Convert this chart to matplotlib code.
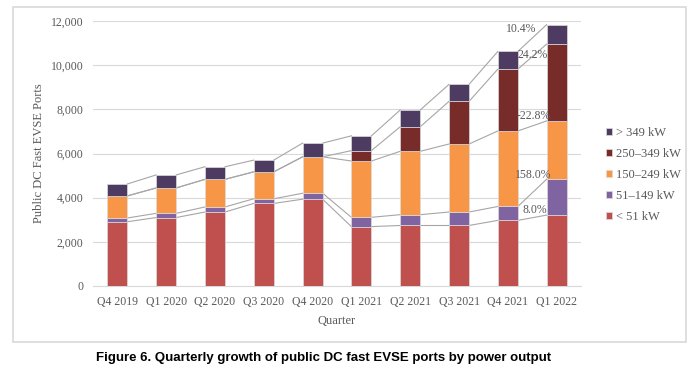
import matplotlib.pyplot as plt
import numpy as np
from matplotlib.patches import Rectangle

quarters = ["Q4 2019", "Q1 2020", "Q2 2020", "Q3 2020", "Q4 2020",
            "Q1 2021", "Q2 2021", "Q3 2021", "Q4 2021", "Q1 2022"]
series_names = ["< 51 kW", "51\u2013149 kW", "150\u2013249 kW", "250\u2013349 kW", "> 349 kW"]
lt51 = [2910, 3100, 3350, 3740, 3930, 2690, 2740, 2740, 2970, 3210]
kw51_149 = [170, 190, 230, 210, 270, 420, 490, 610, 630, 1625]
kw150_249 = [1000, 1150, 1250, 1220, 1650, 2550, 2870, 3080, 3420, 2640]
kw250_349 = [0, 0, 0, 0, 0, 470, 1110, 1930, 2800, 3478]
gt349 = [540, 590, 570, 530, 620, 670, 760, 770, 800, 883]
colors = ["#C0504D", "#8064A2", "#F79646", "#772C2A", "#4D3B62"]

# growth labels Q4 2021 -> Q1 2022 (text placement in data units)
pct_labels = ["8.0%", "158.0%", "-22.8%", "24.2%", "10.4%"]
pct_x = [8.56, 8.52, 8.52, 8.5, 8.27]
pct_y = [3440, 5030, 7710, 10460, 11640]

plt.rcParams["font.family"] = ["Liberation Serif", "DejaVu Serif"]

fig = plt.figure(figsize=(6.97, 3.76), dpi=100)
ax = fig.add_axes([0.1334, 0.2394, 0.7002, 0.7047])

data = [lt51, kw51_149, kw150_249, kw250_349, gt349]
x = np.arange(len(quarters))
width = 0.41
bottom = np.zeros(len(quarters))
handles = []
for name, vals, col in zip(series_names, data, colors):
    vals = np.array(vals, dtype=float)
    b = ax.bar(x, vals, width, bottom=bottom, color=col, label=name,
               edgecolor="#dcdcdc", linewidth=0.5, zorder=3)
    handles.append(b)
    top = bottom + vals
    # series lines between adjacent bars
    for i in range(len(quarters) - 1):
        ax.plot([x[i] + width / 2, x[i + 1] - width / 2], [top[i], top[i + 1]],
                color="#a6a6a6", linewidth=0.8, zorder=2)
    bottom = top

for lab, px, py in zip(pct_labels, pct_x, pct_y):
    ax.text(px, py, lab, ha="center", va="center", fontsize=8.5, color="#595959", zorder=4)

ax.set_xlim(-0.5, len(quarters) - 0.5)
ax.set_ylim(0, 12000)
ax.set_yticks(range(0, 12001, 2000))
ax.set_yticklabels([f"{v:,}" for v in range(0, 12001, 2000)])
ax.set_xticks(x)
ax.set_xticklabels(quarters)
ax.tick_params(axis="both", length=0, labelsize=8.5, labelcolor="#595959")
ax.tick_params(axis="y", pad=7)
ax.tick_params(axis="x", pad=7)
ax.grid(axis="y", color="#d9d9d9", linewidth=0.8, zorder=0)
for s in ["top", "right", "left"]:
    ax.spines[s].set_visible(False)
ax.spines["bottom"].set_color("#d9d9d9")
ax.set_ylabel("Public DC Fast EVSE Ports", fontsize=9, color="#595959", labelpad=4)
ax.set_xlabel("Quarter", fontsize=9, color="#595959", labelpad=5)

leg = ax.legend(handles[::-1], series_names[::-1], loc="center left",
                bbox_to_anchor=(1.04, 0.42), frameon=False, fontsize=9,
                handlelength=0.55, handleheight=0.55, handletextpad=0.3,
                labelspacing=0.72, borderaxespad=0)
for t in leg.get_texts():
    t.set_color("#595959")

fig.patches.append(Rectangle((13 / 697, 1 - 342 / 376), 673 / 697, 335 / 376,
                             transform=fig.transFigure, fill=False,
                             edgecolor="#d9d9d9", linewidth=1.2))

fig.text(323.5 / 697, 1 - 358 / 376,
         "Figure 6. Quarterly growth of public DC fast EVSE ports by power output",
         ha="center", va="center", fontsize=9.5, fontweight="bold",
         family=["Liberation Sans", "DejaVu Sans"])

fig.savefig("out.png", dpi=100)
